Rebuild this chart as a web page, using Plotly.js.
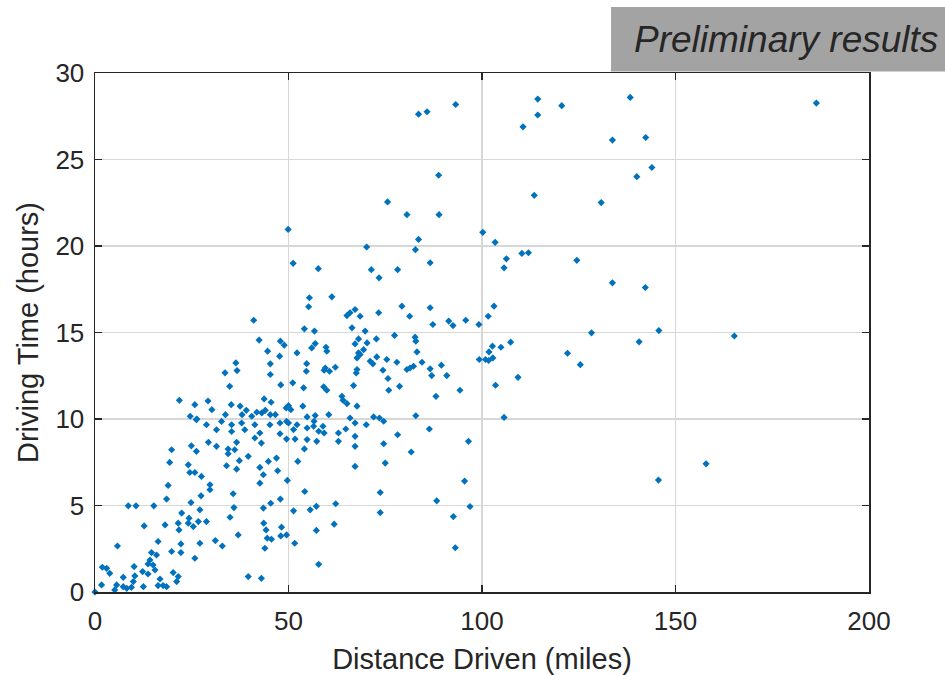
<!DOCTYPE html>
<html>
<head>
<meta charset="utf-8">
<script src="https://cdn.plot.ly/plotly-3.0.1.min.js"></script>
<style>html,body{margin:0;padding:0;background:#fff;}#chart{width:945px;height:675px;}</style>
</head>
<body>
<div id="chart"></div>
<script>
// Distance driven (miles)
const distance = [
26.2,28.8,32.7,35.3,37.9,38.7,41.3,45.2,47.8,49.5,31.4,35.3,42.6,47.8,49.5,
19.8,24.9,29.3,31.4,26.2,34.4,36.1,34.4,36.6,39.6,41.3,43.0,
19.3,24.1,24.5,25.8,27.5,34.0,37.3,36.6,42.6,44.8,46.9,47.2,43.5,42.6,49.7,
18.9,29.7,29.7,18.5,24.8,27.4,35.7,47.9,45.4,
8.6,10.6,15.2,43.5,35.9,22.4,27.1,24.3,24.1,21.5,21.7,25.4,26.7,28.8,34.9,12.7,18.1,43.6,44.2,48.2,
37.0,44.5,45.6,48.0,49.5,16.3,5.8,22.2,27.1,31.1,32.9,
14.6,15.9,19.8,22.2,43.9,14.2,13.7,15.0,25.8,
1.9,3.0,3.8,10.1,12.3,13.7,15.5,20.2,16.8,21.5,7.3,10.3,9.9,39.6,43.0,
1.7,5.6,5.1,7.3,8.2,9.4,12.5,16.3,17.6,18.5,21.1,0,
34.8,21.8,25.8,29.2,30.2,24.6,26.3,35.2,37.5,38.0,39.1,40.5,41.8,43.1,44.0,45.3,46.6,43.7,45.5,48.0,33.7,49.4,
51.1,53.9,59.1,59.9,63.8,64.1,66.8,65.1,50.0,50.6,53.7,54.8,56.9,56.6,60.4,65.9,67.7,67.2,52.2,50.0,51.3,54.8,56.5,58.9,57.8,59.2,62.9,64.8,67.2,51.7,54.8,57.3,62.9,54.1,67.2,52.4,67.2,54.2,57.2,62.2,55.6,51.3,61.8,57.2,51.6,57.8,
41.0,55.2,65.1,65.9,67.2,68.5,73.3,79.3,81.3,86.6,87.3,91.4,
54.1,56.7,66.4,69.8,77.4,82.7,82.9,42.4,47.9,48.9,56.9,56.0,59.7,59.9,67.2,68.1,70.3,72.7,69.4,83.2,
44.6,47.7,52.2,68.1,68.5,67.7,71.1,71.8,72.8,75.4,78.0,84.5,89.5,45.3,54.7,59.5,59.2,60.6,62.1,54.6,45.3,67.7,67.5,74.4,80.6,81.4,82.3,86.6,87.0,90.9,75.7,
78.7,75.9,88.1,72.0,73.5,74.6,82.9,86.4,78.2,74.6,81.7,75.0,70.1,
75.6,80.6,88.9,100.2,103.4,83.6,70.2,82.8,110.3,112.0,106.3,86.6,71.4,78.2,73.4,105.7,61.2,
103.1,101.6,99.2,95.8,92.5,102.7,104.9,107.4,101.8,
83.6,85.8,93.2,110.6,88.8,
114.4,120.6,114.4,138.3,133.7,142.3,143.9,140.0,113.5,130.8,124.5,
186.4,
36.4,33.6,36.7,49.9,51.2,57.7,55.4,
133.7,142.2,145.7,165.2,128.3,140.6,122.1,125.4,157.9,145.6,99.3,100.9,101.7,102.8,109.3,103.5,105.7,73.7,88.3,96.9,73.7,92.6,93.1,95.5,96.5,94.3
];
// Driving time (hours)
const hours = [
9.96,9.67,9.86,9.67,9.77,9.38,9.67,9.67,9.77,9.86,9.38,9.28,9.19,9.15,8.84,
8.22,8.45,8.65,8.42,8.13,8.26,8.22,7.99,8.65,7.84,8.90,8.61,
7.49,7.35,6.91,6.91,6.68,7.30,7.59,7.10,7.20,7.55,7.74,7.01,6.78,6.29,6.45,
6.16,6.20,5.91,5.37,5.17,5.56,5.68,5.37,5.13,
4.98,4.98,4.98,4.85,4.88,4.56,4.75,4.27,3.98,3.98,3.59,3.78,4.07,4.07,4.32,3.82,3.88,3.98,3.59,3.75,
3.30,3.11,3.05,3.24,3.30,2.92,2.66,2.78,2.82,2.97,2.66,
2.28,2.14,2.34,2.28,2.53,1.85,1.62,1.56,1.95,
1.43,1.37,1.08,1.47,1.18,1.04,1.27,1.12,0.75,0.89,0.85,0.93,0.60,0.89,0.79,
0.41,0.41,0.12,0.31,0.21,0.27,0.31,0.37,0.37,0.31,0.60,0,
11.89,11.08,10.83,11.04,10.54,10.16,10.00,10.83,10.74,10.25,10.50,10.16,10.39,10.35,10.50,10.25,10.25,11.16,10.97,11.97,10.25,10.64,
12.09,11.80,11.86,11.66,11.31,11.08,11.93,10.89,10.77,10.54,10.74,10.12,10.20,9.87,10.25,10.06,10.74,9.77,9.67,9.77,9.39,9.48,9.58,9.58,9.29,9.19,9.19,9.42,9.00,8.84,8.81,8.71,8.71,8.27,8.42,7.55,7.26,5.81,4.95,5.10,4.75,4.69,3.92,3.56,2.82,1.60,
15.71,16.49,15.98,16.14,16.33,15.94,16.14,16.52,15.94,16.43,15.46,15.66,
15.21,15.08,15.27,15.08,14.83,14.73,14.50,14.56,14.50,14.27,14.36,14.11,14.15,13.92,14.34,14.63,14.40,14.63,14.01,13.88,
13.92,13.63,13.82,13.82,13.73,13.53,13.34,13.19,13.59,13.44,13.28,13.28,13.11,13.19,13.20,12.95,12.82,12.76,12.99,12.76,12.57,12.86,12.66,12.82,12.86,12.95,13.05,12.90,12.51,12.51,12.34,
11.89,11.66,11.31,10.12,10.06,9.87,10.19,9.42,9.09,8.57,8.09,7.45,9.67,
22.55,21.81,21.81,20.79,20.21,20.38,19.94,19.79,19.57,19.61,19.26,19.03,18.63,18.63,18.16,18.74,17.06,
16.52,15.94,15.46,15.71,15.40,14.21,14.15,14.44,13.88,
27.62,27.76,28.18,26.89,24.09,
28.49,28.11,27.57,28.59,26.12,26.27,24.54,24.01,22.93,22.51,19.17,
28.26,
13.24,12.67,12.80,20.96,19.00,18.69,17.01,
17.87,17.60,15.11,14.80,14.98,14.46,13.80,13.14,7.41,6.47,13.44,13.44,13.38,13.53,12.41,11.95,10.09,5.75,5.27,4.94,4.59,4.36,2.56,6.41,8.71,11.66
];
const xTickVals = [0, 50, 100, 150, 200];
const yTickVals = [0, 5, 10, 15, 20, 25, 30];

const FONT = 'Liberation Sans, Arial, Helvetica, sans-serif';
const INK = '#262626';

const trace = {
  type: 'scatter',
  mode: 'markers',
  x: distance,
  y: hours,
  cliponaxis: false,
  marker: {symbol: 'diamond', size: 5.5, color: '#0072BD', line: {width: 0}},
  hoverinfo: 'x+y'
};

const axisCommon = {
  showline: true, linecolor: INK, linewidth: 1.5, mirror: 'ticks',
  ticks: 'inside', ticklen: 7, tickwidth: 1.5, tickcolor: INK,
  showgrid: true, gridcolor: '#d7d7d7', gridwidth: 1.5,
  zeroline: false,
  tickfont: {family: FONT, size: 26, color: INK}
};

const layout = {
  width: 945, height: 675,
  margin: {l: 95, r: 76, t: 73, b: 83, pad: 0},
  paper_bgcolor: '#ffffff', plot_bgcolor: '#ffffff',
  showlegend: false,
  xaxis: Object.assign({}, axisCommon, {
    range: [0, 200], tickmode: 'array', tickvals: xTickVals,
    ticklabelstandoff: 5,
    title: {text: 'Distance Driven (miles)', font: {family: FONT, size: 29, color: INK}, standoff: 14}
  }),
  yaxis: Object.assign({}, axisCommon, {
    range: [0, 30], tickmode: 'array', tickvals: yTickVals,
    ticklabelstandoff: 4,
    title: {text: 'Driving Time (hours)', font: {family: FONT, size: 29, color: INK}, standoff: 8}
  }),
  shapes: [{
    type: 'rect', xref: 'paper', yref: 'paper', layer: 'above',
    x0: 0.6667, x1: 1.1, y0: 1.003, y1: 1.127,
    fillcolor: '#a3a3a3', line: {width: 0}
  }],
  annotations: [{
    xref: 'paper', yref: 'paper', x: 1.0917, y: 1.0636,
    xanchor: 'right', yanchor: 'middle', showarrow: false,
    text: '<i>Preliminary results</i>',
    font: {family: FONT, size: 37, color: INK}
  }]
};

Plotly.newPlot('chart', [trace], layout, {displayModeBar: false, staticPlot: true});
</script>
</body>
</html>
